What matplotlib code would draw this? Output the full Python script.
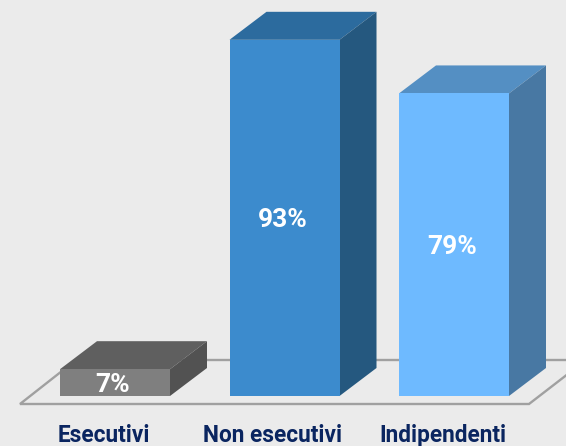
import matplotlib
matplotlib.use('Agg')
import matplotlib.pyplot as plt

categories = ['Esecutivi', 'Non esecutivi', 'Indipendenti']
values = [7, 93, 79]
value_labels = ['7%', '93%', '79%']
front_colors = ['#7f7f7f', '#3c8bcd', '#6ebaff']
top_colors = ['#5f5f5f', '#2c6b9e', '#548fc3']
side_colors = ['#525252', '#25587f', '#4878a3']

W, H = 566, 446
BASE_PX = 396        # pixel row of value 0
PX_PER_VAL = 3.83
STEP_PX = 169.5
FIRST_PX = 115
BAR_PX = 110
DEPTH_X = 37 / STEP_PX
DEPTH_Y = 28 / PX_PER_VAL

fig = plt.figure(figsize=(W / 100, H / 100), dpi=100, facecolor='#ebebeb')
ax = fig.add_axes([0, (H - BASE_PX) / H, 1, BASE_PX / H])
ax.set_facecolor('none')
ax.set_xlim(-FIRST_PX / STEP_PX, (W - FIRST_PX) / STEP_PX)
ax.set_ylim(0, BASE_PX / PX_PER_VAL)
for s in ax.spines.values():
    s.set_visible(False)
ax.yaxis.set_visible(False)


def px_x(p):
    return (p - FIRST_PX) / STEP_PX


def px_y(p):
    return (BASE_PX - p) / PX_PER_VAL


# floor outline
floor_x = [px_x(76), px_x(20), px_x(529), px_x(586)]
floor_y = [px_y(360), px_y(404), px_y(404), px_y(360)]
ax.plot(floor_x + [floor_x[0]], floor_y + [floor_y[0]], color='#a0a0a0', lw=1.7,
        clip_on=False, zorder=1, solid_joinstyle='miter')

w = BAR_PX / STEP_PX
for i, v in enumerate(values):
    l, r = i - w / 2, i + w / 2
    ax.bar(i, v, width=w, color=front_colors[i], zorder=3)
    ax.fill([l, r, r + DEPTH_X, l + DEPTH_X], [v, v, v + DEPTH_Y, v + DEPTH_Y],
            color=top_colors[i], lw=0, zorder=2)
    ax.fill([r, r + DEPTH_X, r + DEPTH_X, r], [0, DEPTH_Y, v + DEPTH_Y, v],
            color=side_colors[i], lw=0, zorder=2)
    ax.text(i - 2 / STEP_PX, v / 2 - 2.5 / PX_PER_VAL, value_labels[i], color='white', fontsize=19,
            fontweight='bold', family='Roboto', ha='center', va='center', zorder=4)

# labels sit a little left of the bars
ax.set_xticks([i - 11.5 / STEP_PX for i in range(len(categories))])
ax.set_xticklabels(categories, family='Roboto', fontweight='bold', fontsize=16.3, color='#0a2560')
ax.tick_params(axis='x', length=0, pad=20)

fig.savefig('out.png', dpi=100, facecolor=fig.get_facecolor())
plt.close()
